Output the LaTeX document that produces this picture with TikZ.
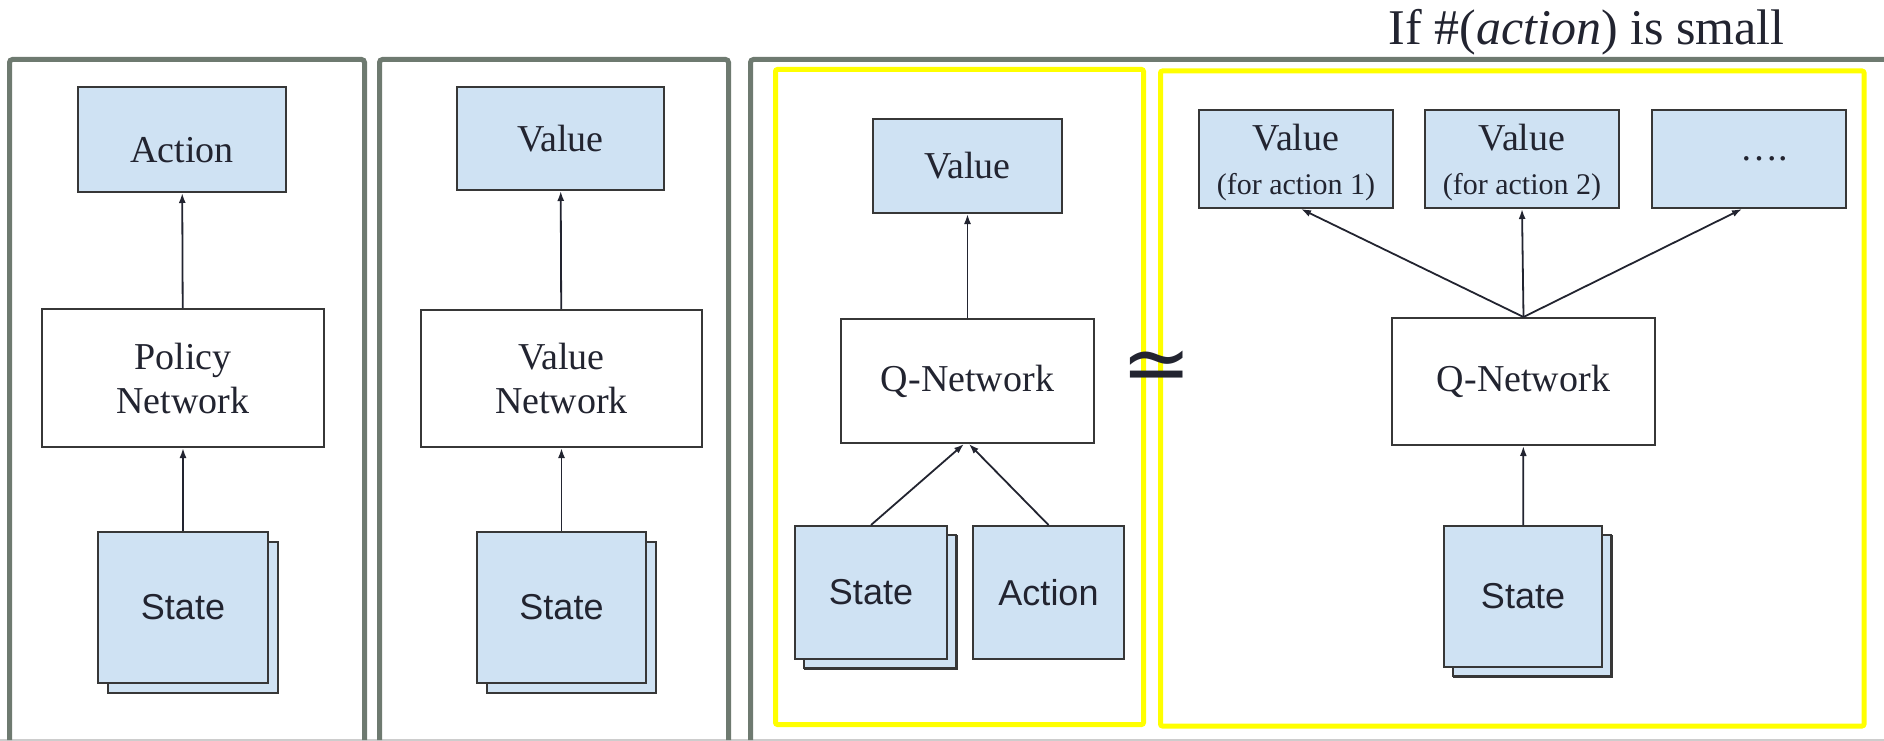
\documentclass[tikz,border=0pt]{standalone}
\usepackage{fontspec}
\setmainfont{Liberation Serif}
\newfontfamily\arialfont{Liberation Sans}
\newfontfamily\symfont{DejaVu Sans}
\usetikzlibrary{arrows.meta,shadows}
\definecolor{panelgray}{RGB}{110,122,112}
\definecolor{boxblue}{RGB}{207,226,243}
\definecolor{hl}{RGB}{255,255,0}
\definecolor{ink}{RGB}{34,36,48}
\definecolor{edge}{RGB}{55,55,55}
\definecolor{rulegray}{RGB}{205,205,205}
\begin{document}
\begin{tikzpicture}[x=1pt,y=-1pt,
  panel/.style={draw=panelgray,line width=5pt,rounded corners=3pt},
  hlbox/.style={draw=hl,line width=5pt,rounded corners=2pt},
  blk/.style={draw=edge,line width=2pt,inner sep=0pt,text=ink,align=center,font=\fontsize{38}{44}\selectfont},
  outbox/.style={blk,fill=boxblue},
  netbox/.style={blk,fill=white},
  inbox/.style={blk,fill=boxblue,font=\arialfont\fontsize{36}{42}\selectfont},
  stackbox/.style={inbox,copy shadow={shadow xshift=10pt,shadow yshift=-10pt}},
  arr/.style={draw=ink,line width=1.8pt,-{Latex[length=10pt,width=7pt]}},
]
\useasboundingbox (0,0) rectangle (1884,741);

% bottom rule and panels
\draw[rulegray,line width=1.5pt] (0,740) -- (1884,740);
\draw[panel] (9.5,740) -- (9.5,59.5) -- (364.5,59.5) -- (364.5,740);
\draw[panel] (379.5,740) -- (379.5,59.5) -- (728.5,59.5) -- (728.5,740);
\draw[panel] (750.5,740) -- (750.5,59.5) -- (1884,59.5);

% yellow boxes
\draw[hlbox] (775.5,69.5) rectangle (1143.5,724.5);
\draw[hlbox] (1160.5,71) rectangle (1864,726);

% title
\node[anchor=base,text=ink,inner sep=0pt,font=\fontsize{50}{56}\selectfont] (title) at (1586.5,45) {If \#(\textit{action}) is small};

% panel 1
\node[outbox,minimum width=208pt,minimum height=105pt,text height=45pt,text depth=0pt] (a1) at (182,139.5) {Action};
\node[netbox,minimum width=282pt,minimum height=138pt] (pn) at (183,378) {Policy\\Network};
\node[stackbox,minimum width=170pt,minimum height=151pt] (s1) at (183,607.5) {State};
\draw[arr] (pn) -- (a1);
\draw[arr] (s1) -- (pn);

% panel 2
\node[outbox,minimum width=207pt,minimum height=103pt] (v2) at (560.5,138.5) {Value};
\node[netbox,minimum width=281pt,minimum height=137pt] (vn) at (561.5,378.5) {Value\\Network};
\node[stackbox,minimum width=169pt,minimum height=151pt] (s2) at (561.5,607.5) {State};
\draw[arr] (vn) -- (v2);
\draw[arr] (s2) -- (vn);

% panel 3, left
\node[outbox,minimum width=189pt,minimum height=94pt] (v3) at (967.5,166) {Value};
\node[netbox,minimum width=253pt,minimum height=124pt] (q3) at (967.5,381) {Q-Network};
\node[stackbox,copy shadow={shadow xshift=9pt,shadow yshift=-9pt},minimum width=152pt,minimum height=133pt] (s3) at (871,592.5) {State};
\node[inbox,minimum width=151pt,minimum height=133pt] (a3) at (1048.5,592.5) {Action};
\draw[arr] (q3) -- (v3);
\draw[arr] (s3.north) -- ([xshift=-3.5pt]q3.south);
\draw[arr] (a3.north) -- ([xshift=1.5pt]q3.south);

% similarity sign
\node[text=ink,inner sep=0pt,font=\symfont\fontsize{84}{84}\selectfont] (simsign) at (1157,372) {≃};

% panel 3, right
\node[outbox,minimum width=194pt,minimum height=98pt] (v4) at (1296,159) {\rule{0pt}{34pt}Value\\[0pt]{\fontsize{30}{34}\selectfont (for action 1)}};
\node[outbox,minimum width=194pt,minimum height=98pt] (v5) at (1522,159) {\rule{0pt}{34pt}Value\\[0pt]{\fontsize{30}{34}\selectfont (for action 2)}};
\node[outbox,minimum width=194pt,minimum height=98pt] (v6) at (1749,159) {\hspace*{30pt}….};
\node[netbox,minimum width=263pt,minimum height=127pt] (q4) at (1523.5,381.5) {Q-Network};
\node[stackbox,copy shadow={shadow xshift=9pt,shadow yshift=-9pt},minimum width=158pt,minimum height=141pt] (s4) at (1523,596.5) {State};
\draw[arr] (q4.north) -- ([xshift=5pt]v4.south);
\draw[arr] (q4.north) -- (v5.south);
\draw[arr] (q4.north) -- ([xshift=-7pt]v6.south);
\draw[arr] (s4) -- (q4);
\end{tikzpicture}
\end{document}
